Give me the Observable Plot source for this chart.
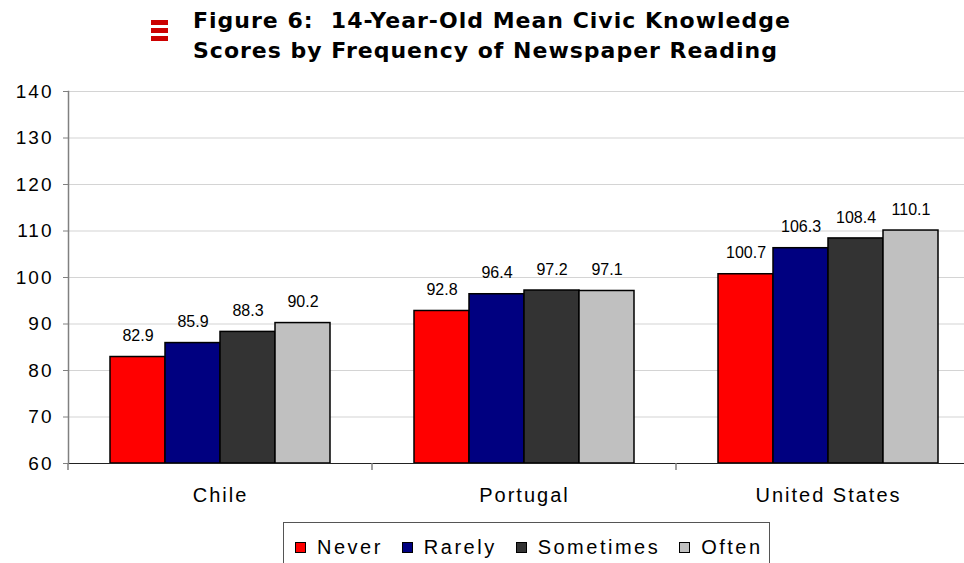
<!DOCTYPE html>
<html>
<head>
<meta charset="utf-8">
<script src="https://cdn.jsdelivr.net/npm/d3@7"></script>
<script src="https://cdn.jsdelivr.net/npm/@observablehq/plot@0.6"></script>
<style>
  html, body { margin: 0; padding: 0; background: #fff; }
  body { width: 964px; height: 563px; overflow: hidden; position: relative; font-family: "Liberation Sans", Arial, sans-serif; }
  #chart { position: absolute; left: 0; top: 0; width: 981px; }
  #chart svg { max-width: none !important; }
  #title {
    position: absolute; left: 193px; top: 6px;
    font-family: "DejaVu Sans", Verdana, sans-serif; font-weight: bold;
    font-size: 22px; line-height: 30px; letter-spacing: 1px; color: #000; white-space: nowrap;
  }
  #icon { position: absolute; left: 151px; top: 20px; width: 17px; }
  #icon div { height: 5px; background: #cc0000; margin-bottom: 3px; }
  #legend {
    position: absolute; left: 283px; top: 522px; width: 487px; height: 60px;
    border: 1px solid #555; box-sizing: border-box;
    display: flex; align-items: flex-start; padding: 13px 0 0 11px;
  }
  .item { display: flex; align-items: center; margin-right: 19px; font-size: 20px; letter-spacing: 2.5px; line-height: 22px; white-space: nowrap; }
  .sw { width: 9px; height: 9px; border: 1.5px solid #000; margin-right: 11px; }
</style>
</head>
<body>
<div id="icon"><div></div><div></div><div></div></div>
<div id="title">Figure 6:&nbsp; 14-Year-Old Mean Civic Knowledge<br>Scores by Frequency of Newspaper Reading</div>
<div id="chart"></div>
<div id="legend"></div>
<script>
// Mean civic knowledge scores of 14-year-olds, by how often they read a newspaper
const countries = ["Chile", "Portugal", "United States"];
const frequencies = ["Never", "Rarely", "Sometimes", "Often"];
const colors = ["#ff0000", "#000080", "#333333", "#c0c0c0"];
const never = [82.9, 92.8, 100.7];
const rarely = [85.9, 96.4, 106.3];
const sometimes = [88.3, 97.2, 108.4];
const often = [90.2, 97.1, 110.1];
const yTicks = [60, 70, 80, 90, 100, 110, 120, 130, 140];

const series = [never, rarely, sometimes, often];
const rows = [];
countries.forEach((country, i) => {
  frequencies.forEach((freq, j) => {
    rows.push({country, freq, value: series[j][i]});
  });
});

const chart = Plot.plot({
  width: 981,
  height: 513,
  marginLeft: 67,
  marginRight: 0,
  marginTop: 91,
  marginBottom: 50,
  style: {fontFamily: "'Liberation Sans', Arial, sans-serif", fontSize: "19px", color: "#000", background: "transparent", maxWidth: "none"},
  fx: {domain: countries, padding: 0, label: null},
  x: {domain: frequencies, paddingInner: 0, paddingOuter: 0.742, axis: null},
  y: {domain: [60, 140], label: null},
  color: {domain: frequencies, range: colors},
  marks: [
    Plot.gridY(yTicks, {stroke: "#d4d4d4", strokeOpacity: 1, strokeWidth: 1.2}),
    Plot.barY(rows, {fx: "country", x: "freq", y1: 60, y2: "value", fill: "freq", stroke: "#000", strokeWidth: 1.5}),
    Plot.ruleY([60], {stroke: "#222", strokeWidth: 1.2}),
    Plot.text(rows, {
      fx: "country", x: "freq", y: "value",
      text: d => d.value.toFixed(1),
      dy: -21, fontSize: 16, fill: "#000"
    }),
    Plot.axisY(yTicks, {anchor: "left", tickSize: 5, tickPadding: 10, label: null, fontSize: 19, stroke: "#808080"}),
    Plot.axisFx({anchor: "bottom", tickSize: 0, tickPadding: 24, label: null, fontSize: 20}),
    Plot.frame({anchor: "left", stroke: "#808080", strokeWidth: 1.5, facetAnchor: "left"})
  ]
});

// letter spacing of the axis labels
d3.select(chart).selectAll("[aria-label='y-axis tick label'] text, [aria-label='fx-axis tick label'] text")
  .style("letter-spacing", "2px");

// short separator ticks between the country groups, below the baseline
const fx = chart.scale("fx");
const y = chart.scale("y");
const base = y.apply(60);
const edges = countries.map(c => fx.apply(c)).concat([fx.apply(countries[countries.length - 1]) + fx.bandwidth]);
d3.select(chart).append("g").attr("aria-label", "group separators")
  .selectAll("line").data(edges).join("line")
  .attr("x1", d => d).attr("x2", d => d)
  .attr("y1", base).attr("y2", base + 7)
  .attr("stroke", "#808080").attr("stroke-width", 1.5);

document.getElementById("chart").appendChild(chart);

// legend
const legend = d3.select("#legend");
frequencies.forEach((f, i) => {
  const item = legend.append("div").attr("class", "item");
  item.append("div").attr("class", "sw").style("background", colors[i]);
  item.append("span").text(f);
});
</script>
</body>
</html>
